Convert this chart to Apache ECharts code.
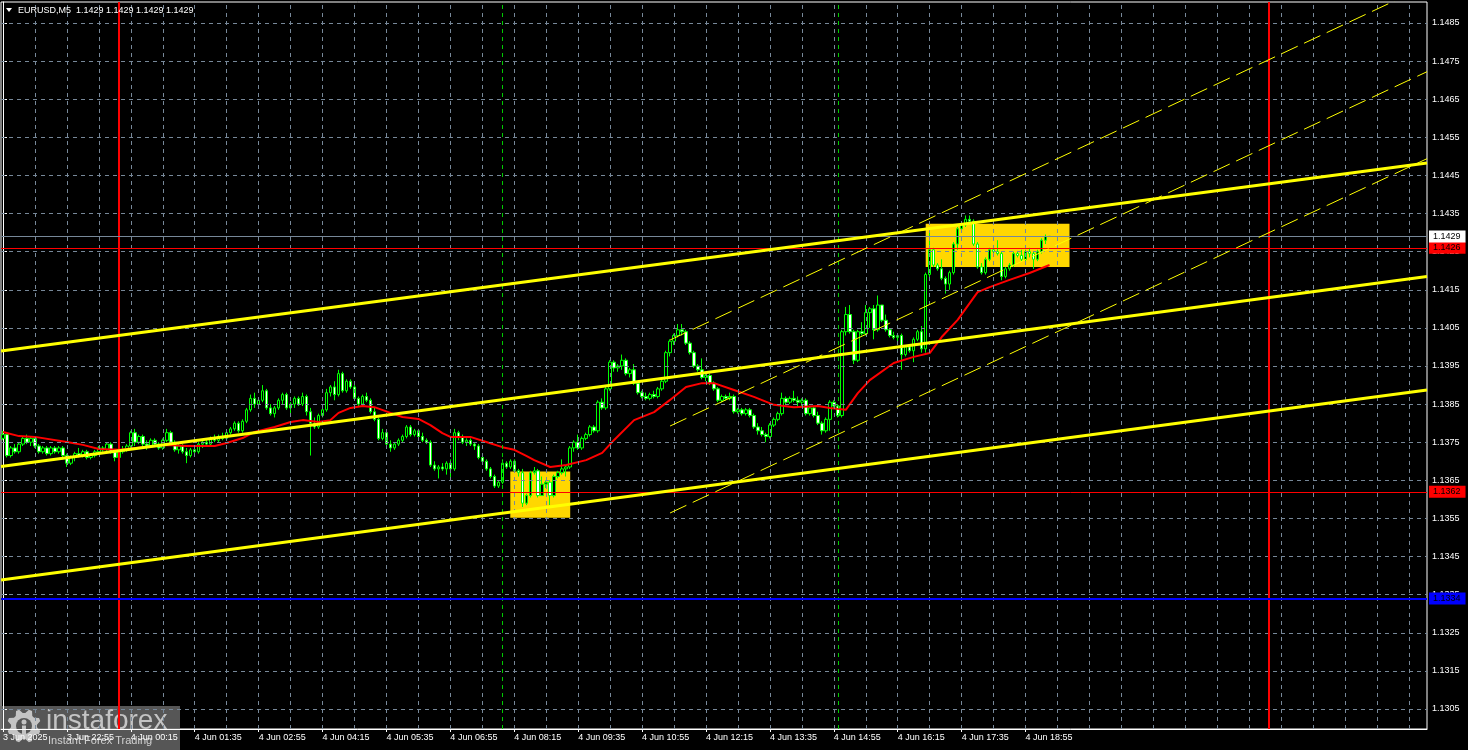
<!DOCTYPE html>
<html><head><meta charset="utf-8">
<script src="https://cdn.jsdelivr.net/npm/echarts@6/dist/echarts.min.js"></script>
<style>html,body{margin:0;padding:0;background:#000}#c{width:1468px;height:750px}</style>
</head><body><div id="c"></div>
<script>
// ---- data ----
const SLOTS = 357; // 5-minute slots visible (3 Jun 21:35 onward)
const tickLabels = ["3 Jun 2025","3 Jun 22:55","4 Jun 00:15","4 Jun 01:35","4 Jun 02:55","4 Jun 04:15","4 Jun 05:35","4 Jun 06:55","4 Jun 08:15","4 Jun 09:35","4 Jun 10:55","4 Jun 12:15","4 Jun 13:35","4 Jun 14:55","4 Jun 16:15","4 Jun 17:35","4 Jun 18:55"];
const priceTicks = [1.1305,1.1315,1.1325,1.1335,1.1345,1.1355,1.1365,1.1375,1.1385,1.1395,1.1405,1.1415,1.1425,1.1435,1.1445,1.1455,1.1465,1.1475,1.1485];
// [open, close, low, high]
const ohlc = [
[1.1376,1.1377,1.13755,1.1378],[1.1377,1.13715,1.1371,1.13775],[1.13715,1.13735,1.1371,1.1374],[1.13735,1.13725,1.1372,1.13745],
[1.13725,1.13745,1.1372,1.1375],[1.13745,1.1376,1.1374,1.13765],[1.1376,1.1375,1.13745,1.1377],[1.1375,1.1376,1.1374,1.13765],
[1.1376,1.1374,1.13735,1.13765],[1.1374,1.13725,1.1372,1.13745],[1.13725,1.13735,1.1372,1.1374],[1.13735,1.1372,1.13715,1.1374],
[1.1372,1.13735,1.13715,1.1374],[1.13735,1.13725,1.1372,1.1374],[1.13725,1.13735,1.1372,1.1374],[1.13735,1.13715,1.13705,1.1374],
[1.13715,1.13695,1.13685,1.1372],[1.13695,1.1371,1.1369,1.13715],[1.1371,1.1372,1.137,1.13725],[1.1372,1.13715,1.1371,1.13735],
[1.13715,1.13725,1.1371,1.1373],[1.13725,1.1371,1.13705,1.1373],[1.1371,1.13715,1.13705,1.1372],[1.13715,1.13725,1.1371,1.1373],
[1.13725,1.13735,1.1372,1.1374],[1.13735,1.1373,1.13725,1.1374],[1.1373,1.13745,1.13725,1.1375],[1.13745,1.13725,1.1372,1.1375],
[1.13725,1.1371,1.137,1.1373],[1.1371,1.13725,1.1369,1.1373],[1.13725,1.1373,1.1372,1.1374],[1.1373,1.1374,1.13725,1.13745],
[1.1374,1.13775,1.1373,1.1378],[1.13775,1.1375,1.1374,1.13785],[1.1375,1.13765,1.13745,1.1377],[1.13765,1.13745,1.1374,1.1377],
[1.13745,1.1374,1.1373,1.13755],[1.1374,1.13755,1.13735,1.1376],[1.13755,1.13745,1.1374,1.1376],[1.13745,1.13735,1.1373,1.1375],
[1.13735,1.13755,1.1373,1.1376],[1.13755,1.13775,1.1375,1.13785],[1.13775,1.1375,1.13745,1.1378],[1.1375,1.1373,1.13725,1.13755],
[1.1373,1.1374,1.1372,1.13745],[1.1374,1.13725,1.1372,1.13745],[1.13725,1.13715,1.13695,1.13735],[1.13715,1.1373,1.1371,1.13735],
[1.1373,1.13725,1.1372,1.1374],[1.13725,1.13745,1.1372,1.1375],[1.13745,1.1375,1.13735,1.13755],[1.1375,1.13745,1.1374,1.1376],
[1.13745,1.1376,1.1374,1.13765],[1.1376,1.13755,1.1375,1.1377],[1.13755,1.13765,1.1375,1.1377],[1.13765,1.1376,1.13755,1.13775],
[1.1376,1.13775,1.13755,1.1378],[1.13775,1.13785,1.1377,1.1379],[1.13785,1.138,1.1378,1.13805],[1.138,1.1378,1.13775,1.13805],
[1.1378,1.13805,1.13775,1.1381],[1.13805,1.13835,1.138,1.1384],[1.13835,1.13865,1.1383,1.13875],[1.13865,1.1385,1.1384,1.1388],
[1.1385,1.1386,1.1384,1.13865],[1.1386,1.13885,1.13855,1.139],[1.13885,1.1384,1.13835,1.1389],[1.1384,1.13825,1.1382,1.1385],
[1.13825,1.1384,1.13815,1.13845],[1.1384,1.1386,1.13835,1.13865],[1.1386,1.13875,1.1385,1.1388],[1.13875,1.1384,1.13835,1.1388],
[1.1384,1.1385,1.13825,1.13855],[1.1385,1.13865,1.1384,1.1387],[1.13865,1.1385,1.13845,1.1387],[1.1385,1.1387,1.13845,1.1388],
[1.1387,1.1383,1.1382,1.13875],[1.1383,1.138,1.13715,1.1384],[1.138,1.1379,1.13785,1.13815],[1.1379,1.1382,1.13785,1.13825],
[1.1382,1.13835,1.13815,1.1384],[1.13835,1.1388,1.1383,1.1389],[1.1388,1.13895,1.1387,1.139],[1.13895,1.13875,1.1386,1.1391],
[1.13875,1.1393,1.1387,1.1394],[1.1393,1.13885,1.1388,1.13935],[1.13885,1.1391,1.1388,1.13915],[1.1391,1.13895,1.1389,1.13915],
[1.13895,1.13865,1.1386,1.139],[1.13865,1.1385,1.13845,1.1387],[1.1385,1.1387,1.13845,1.13875],[1.1387,1.1386,1.13855,1.1388],
[1.1386,1.1383,1.13825,1.13865],[1.1383,1.1381,1.13805,1.1384],[1.1381,1.1376,1.13755,1.13815],[1.1376,1.13775,1.13755,1.13785],
[1.13775,1.13745,1.1374,1.1378],[1.13745,1.13735,1.13725,1.13755],[1.13735,1.13745,1.1373,1.1375],[1.13745,1.13755,1.1374,1.1376],
[1.13755,1.13765,1.1375,1.1377],[1.13765,1.1379,1.1376,1.13795],[1.1379,1.1377,1.13765,1.13795],[1.1377,1.1378,1.13765,1.13785],
[1.1378,1.13765,1.1376,1.13785],[1.13765,1.13755,1.1375,1.13775],[1.13755,1.1375,1.13745,1.1376],[1.1375,1.1369,1.13685,1.13755],
[1.1369,1.1368,1.13675,1.137],[1.1368,1.13685,1.13655,1.1369],[1.13685,1.1368,1.13675,1.13695],[1.1368,1.13695,1.13665,1.137],
[1.13695,1.1368,1.13655,1.13705],[1.1368,1.13775,1.13675,1.13785],[1.13775,1.13765,1.13755,1.1378],[1.13765,1.1375,1.13745,1.1377],
[1.1375,1.13755,1.1374,1.1376],[1.13755,1.13745,1.1374,1.1376],[1.13745,1.1374,1.1373,1.1375],[1.1374,1.1371,1.13705,1.13745],
[1.1371,1.137,1.13695,1.13715],[1.137,1.1368,1.13675,1.13705],[1.1368,1.1366,1.13655,1.13685],[1.1366,1.13635,1.1363,1.13665],
[1.13635,1.13645,1.1363,1.1365],[1.13645,1.13695,1.1364,1.13705],[1.13695,1.13685,1.1368,1.137],[1.13685,1.137,1.1368,1.13705],
[1.137,1.13675,1.1367,1.13705],[1.13675,1.1367,1.1366,1.1368],[1.1367,1.1359,1.1358,1.1368],[1.1359,1.1361,1.13585,1.13615],
[1.1361,1.1367,1.13605,1.13675],[1.1367,1.13675,1.13665,1.13685],[1.13675,1.1361,1.13605,1.1368],[1.1361,1.1364,1.1361,1.1366],
[1.1364,1.13645,1.1363,1.1365],[1.13645,1.1361,1.13585,1.1365],[1.1361,1.1366,1.13605,1.13665],[1.1366,1.1367,1.13655,1.13675],
[1.1367,1.1368,1.13665,1.13705],[1.1368,1.13685,1.1366,1.1369],[1.13685,1.13735,1.1368,1.1374],[1.13735,1.1375,1.13725,1.13755],
[1.1375,1.13735,1.1373,1.1377],[1.13735,1.1376,1.1373,1.13765],[1.1376,1.1377,1.13755,1.13775],[1.1377,1.1379,1.13765,1.13795],
[1.1379,1.1378,1.13775,1.13795],[1.1378,1.13855,1.13775,1.1386],[1.13855,1.1384,1.13835,1.13865],[1.1384,1.1389,1.13835,1.13895],
[1.1389,1.1396,1.13885,1.13965],[1.1396,1.13945,1.13935,1.13965],[1.13945,1.1395,1.13935,1.13955],[1.1395,1.13965,1.1394,1.1398],
[1.13965,1.1393,1.13925,1.1397],[1.1393,1.1394,1.1392,1.13945],[1.1394,1.13905,1.139,1.13955],[1.13905,1.1388,1.13875,1.1391],
[1.1388,1.1387,1.13865,1.13885],[1.1387,1.13865,1.1386,1.1388],[1.13865,1.13875,1.1386,1.1388],[1.13875,1.1387,1.13865,1.13885],
[1.1387,1.1389,1.13865,1.13895],[1.1389,1.1391,1.13885,1.13915],[1.1391,1.13985,1.13905,1.1399],[1.13985,1.14015,1.13975,1.1402],
[1.14015,1.1403,1.14005,1.14035],[1.1403,1.14045,1.14025,1.1406],[1.14045,1.1404,1.1403,1.1406],[1.1404,1.1401,1.14005,1.14045],
[1.1401,1.13985,1.1398,1.14015],[1.13985,1.1395,1.13945,1.1399],[1.1395,1.1394,1.13935,1.13955],[1.1394,1.1392,1.13915,1.1397],
[1.1392,1.13925,1.1391,1.13935],[1.13925,1.13905,1.139,1.1393],[1.13905,1.1389,1.13885,1.1391],[1.1389,1.1386,1.13855,1.13895],
[1.1386,1.1387,1.13855,1.13875],[1.1387,1.13865,1.1386,1.13875],[1.13865,1.1387,1.1386,1.1388],[1.1387,1.1383,1.13825,1.13875],
[1.1383,1.13835,1.13825,1.1384],[1.13835,1.13825,1.1382,1.1384],[1.13825,1.13835,1.1382,1.1384],[1.13835,1.1382,1.13815,1.1384],
[1.1382,1.1379,1.13785,1.13825],[1.1379,1.1378,1.1377,1.138],[1.1378,1.1377,1.13765,1.1379],[1.1377,1.13765,1.1375,1.13775],
[1.13765,1.13795,1.1376,1.138],[1.13795,1.1381,1.1379,1.13815],[1.1381,1.13825,1.13805,1.1383],[1.13825,1.13865,1.1382,1.1388],
[1.13865,1.13855,1.1385,1.1387],[1.13855,1.13865,1.1385,1.1387],[1.13865,1.1386,1.13855,1.13885],[1.1386,1.13855,1.13845,1.1387],
[1.13855,1.1386,1.13845,1.13865],[1.1386,1.13825,1.1382,1.13865],[1.13825,1.1384,1.1382,1.13845],[1.1384,1.1382,1.13815,1.13845],
[1.1382,1.138,1.13795,1.1383],[1.138,1.1378,1.1377,1.13805],[1.1378,1.1381,1.13775,1.13815],[1.1381,1.13855,1.1378,1.1386],
[1.13855,1.13845,1.1384,1.1386],[1.13845,1.1382,1.13815,1.1385],[1.1382,1.1404,1.13815,1.14045],[1.1404,1.14085,1.1403,1.14105],
[1.14085,1.1404,1.14035,1.1411],[1.1404,1.13965,1.13955,1.14045],[1.13965,1.1404,1.1396,1.14045],[1.1404,1.14035,1.1403,1.14065],
[1.14035,1.1409,1.1403,1.1411],[1.1409,1.141,1.1405,1.14105],[1.141,1.14045,1.1402,1.1411],[1.14045,1.1411,1.1404,1.14135],
[1.1411,1.1407,1.14065,1.1411],[1.1407,1.14045,1.1404,1.14085],[1.14045,1.1403,1.14025,1.1405],[1.1403,1.14025,1.1402,1.1404],
[1.14025,1.1403,1.14015,1.14035],[1.1403,1.1398,1.1394,1.14035],[1.1398,1.14,1.13975,1.14005],[1.14,1.1399,1.13985,1.14005],
[1.1399,1.1402,1.1396,1.14025],[1.1402,1.1404,1.14015,1.14045],[1.1404,1.13995,1.13985,1.14055],[1.13995,1.1419,1.13985,1.14195],
[1.1419,1.14255,1.1418,1.1431],[1.14255,1.14215,1.1421,1.1426],[1.14215,1.14205,1.142,1.1422],[1.14205,1.1418,1.14175,1.1423],
[1.1418,1.14165,1.1414,1.14185],[1.14165,1.14195,1.1415,1.142],[1.14195,1.1427,1.1419,1.14275],[1.1427,1.1431,1.14255,1.14315],
[1.1431,1.1432,1.14305,1.1433],[1.1432,1.14335,1.14315,1.14345],[1.14335,1.1433,1.14325,1.14345],[1.1433,1.1427,1.14265,1.14335],
[1.1427,1.1421,1.14205,1.14275],[1.1421,1.14195,1.1419,1.1422],[1.14195,1.1423,1.1419,1.14235],[1.1423,1.14255,1.14225,1.1426],
[1.14255,1.1425,1.14245,1.1426],[1.1425,1.14245,1.1424,1.1428],[1.14245,1.14185,1.14175,1.1425],[1.14185,1.14205,1.1418,1.1421],
[1.14205,1.14215,1.142,1.1422],[1.14215,1.14245,1.1421,1.1425],[1.14245,1.1424,1.14235,1.1425],[1.1424,1.1423,1.14225,1.14255],
[1.1423,1.1425,1.14225,1.14255],[1.1425,1.14245,1.14235,1.1426],[1.14245,1.1423,1.14205,1.1425],[1.1423,1.1425,1.14225,1.14255],
[1.1425,1.1428,1.14245,1.14285],[1.1428,1.1429,1.1427,1.14295],[1.1429,1.1429,1.1429,1.1429]
];
// moving average (red), read at bar indices
const maIdx = [0,4,8,16,20,24,29,35,41,46,53,56,60,63,68,72,75,79,82,84,87,90,93,97,100,104,107,110,112,117,121,125,128,131,133,137,141,146,150,153,158,163,167,171,175,178,183,188,193,198,204,207,211,214,217,223,228,232,235,239,244,247,252,257,262];
const maVal = [1.13777,1.13766,1.13764,1.137505,1.13743,1.13732,1.1373,1.13737,1.13743,1.1374,1.1374,1.13748,1.13761,1.13777,1.1379,1.13803,1.13808,1.13803,1.13808,1.13827,1.1384,1.13845,1.13842,1.13827,1.13816,1.13811,1.13795,1.13774,1.13764,1.13764,1.137505,1.13737,1.1373,1.13714,1.13703,1.13685,1.1369,1.13703,1.13722,1.13756,1.13808,1.13829,1.13861,1.13895,1.13905,1.13905,1.13887,1.13869,1.13848,1.13842,1.13845,1.1384,1.13835,1.13879,1.13913,1.13958,1.13974,1.13984,1.14026,1.14071,1.14144,1.14157,1.14176,1.14194,1.14215];
// trend lines [barFrom, priceFrom, barTo, priceTo]
const solidTrends = [[-0.5,1.139893,356.5,1.144826],[-0.5,1.136863,356.5,1.141848],[-0.5,1.133884,356.5,1.13887]];
const dashTrends = [[167,1.140182,356.5,1.149479],[167,1.137925,356.5,1.147222],[167,1.135643,356.5,1.14494]];
// zones [barFrom, priceTop, barTo, priceBottom]
const zones = [[127,1.13673,142,1.13552],[231,1.14323,267,1.1421]];
const bidPrice = 1.1429, redLevels = [1.1426, 1.1362], blueLevel = 1.1334;
const dayStarts = [29, 317];
const eventBars = [125, 209];
const titleText = "EURUSD,M5  1.1429 1.1429 1.1429 1.1429";

// ---- chart ----
const FONT = 'Liberation Sans';
const cats = []; for (let i = 0; i < SLOTS; i++) cats.push(String(i));
const showTick = (i) => i % 16 === 0 && i <= 256;
const gridXs = []; for (let k = 8; k < SLOTS; k += 8) gridXs.push(k);
const dummy = [[-5, 1.14]];
function overlay(z, markLine) {
  return {type:'line', xAxisIndex:1, yAxisIndex:0, data:dummy, symbol:'none', lineStyle:{opacity:0},
    silent:true, z:z, clip:false, markLine:Object.assign({silent:true, precision:6, symbol:['none','none'], animation:false, label:{show:false}}, markLine)};
}
const levelLabel = (bg) => ({show:true, position:'end', distance:2, formatter:(p)=>Number(p.value).toFixed(4), backgroundColor:bg, color:'#000',
  padding:[2,5,1,4], fontSize:9, fontFamily:FONT});

const series = [];
// zones
series.push({type:'line', xAxisIndex:1, data:dummy, symbol:'none', lineStyle:{opacity:0}, silent:true, z:1,
  markArea:{silent:true, itemStyle:{color:'#ffd700'}, data: zones.map(z=>[{coord:[z[0],z[1]]},{coord:[z[2],z[3]]}])}});
// grid
series.push(overlay(2, {lineStyle:{color:'#778899', type:[4,4], width:1},
  data: priceTicks.map(v=>({yAxis:v})).concat(gridXs.map(v=>({xAxis:v})))}));
// candles
series.push({type:'candlestick', xAxisIndex:0, data: ohlc, barWidth:3, z:3, silent:true,
  itemStyle:{color:'#000', color0:'#fff', borderColor:'#00ff00', borderColor0:'#00ff00', borderWidth:1}});
// MA
series.push({type:'line', xAxisIndex:1, data: maIdx.map((x,k)=>[x, maVal[k]]), symbol:'none', z:4, silent:true,
  lineStyle:{color:'#ff0000', width:2}});
// trend lines
solidTrends.forEach(t=>series.push({type:'line', xAxisIndex:1, data:[[t[0],t[1]],[t[2],t[3]]], symbol:'none', z:5, silent:true,
  lineStyle:{color:'#ffff00', width:3}}));
dashTrends.forEach(t=>series.push({type:'line', xAxisIndex:1, data:[[t[0],t[1]],[t[2],t[3]]], symbol:'none', z:5, silent:true,
  lineStyle:{color:'#ffff00', width:1, type:[18,7]}}));
// vertical lines
series.push(overlay(6, {lineStyle:{color:'#ff0000', width:2, type:'solid'}, data: dayStarts.map(v=>({xAxis:v}))}));
series.push(overlay(6, {lineStyle:{color:'#00cc00', width:1, type:[4,4]}, data: eventBars.map(v=>({xAxis:v}))}));
// horizontal levels with price tags
series.push(overlay(7, {data:[
  {yAxis: blueLevel, lineStyle:{color:'#0000ff', width:2, type:'solid'}, label: levelLabel('#0000ff')},
  ...redLevels.map(v=>({yAxis:v, lineStyle:{color:'#ff0000', width:1, type:'solid'}, label: levelLabel('#ff0000')})),
  {yAxis: bidPrice, lineStyle:{color:'#778899', width:1, type:'solid'}, label: levelLabel('#ffffff')}
]}));

// watermark gear polygon
const gear = []; const gcx = 24, gcy = 726;
for (let t = 0; t < 32; t++) { const a = t * Math.PI * 2 / 32 + 0.1; const r = (t % 4 === 1 || t % 4 === 2) ? 17 : 13;
  gear.push([gcx + r * Math.cos(a), gcy + r * Math.sin(a)]); }

const chart = echarts.init(document.getElementById('c'), null, {renderer:'canvas'});
chart.setOption({
  animation:false, backgroundColor:'#000',
  grid:{left:1, right:41, top:2, bottom:21, show:true, borderColor:'#ffffff', borderWidth:1, backgroundColor:'#000'},
  xAxis:[
    {type:'category', data:cats, boundaryGap:true, gridIndex:0,
     axisLine:{show:true, lineStyle:{color:'#fff', width:1}},
     axisTick:{show:true, interval:showTick, alignWithLabel:true, length:3, lineStyle:{color:'#fff'}},
     axisLabel:{show:true, interval:showTick, formatter:(v,i)=>tickLabels[i/16], align:'left', color:'#fff', fontSize:9, fontFamily:FONT, margin:4},
     splitLine:{show:false}},
    {type:'value', min:-0.5, max:SLOTS-0.5, show:false, gridIndex:0}
  ],
  yAxis:{type:'value', position:'right', min:1.129975, max:1.149051, scale:true,
    axisLine:{show:true, lineStyle:{color:'#fff'}},
    axisTick:{show:true, customValues:priceTicks, length:4, lineStyle:{color:'#fff'}},
    axisLabel:{show:true, customValues:priceTicks, formatter:(v)=>v.toFixed(4), color:'#fff', fontSize:9, fontFamily:FONT, margin:5},
    splitLine:{show:false}},
  series: series,
  graphic:[
    {type:'polygon', shape:{points:[[6,8],[12,8],[9,12]]}, style:{fill:'#fff'}, z:100},
    {type:'text', x:18, y:10.5, style:{text:titleText, fill:'#fff', font:'9px '+FONT, textVerticalAlign:'middle'}, z:100},
    {type:'group', z:100, children:[
      {type:'rect', shape:{x:0, y:706, width:180, height:44}, style:{fill:'rgba(110,110,110,0.78)'}},
      {type:'polygon', shape:{points:gear}, style:{fill:'#c4c4c4'}},
      {type:'circle', shape:{cx:gcx, cy:gcy, r:8}, style:{fill:'#565656'}},
      {type:'circle', shape:{cx:gcx, cy:gcy-4, r:2.5}, style:{fill:'#c4c4c4'}},
      {type:'rect', shape:{x:gcx-2, y:gcy-0.5, width:4, height:13}, style:{fill:'#c4c4c4'}},
      {type:'text', x:46, y:721, style:{text:'instaforex', fill:'#c4c4c4', font:'28px '+FONT, textVerticalAlign:'middle'}},
      {type:'text', x:48, y:741, style:{text:'Instant Forex Trading', fill:'#d2d2d2', font:'11px '+FONT, textVerticalAlign:'middle'}}
    ]}
  ]
});
</script></body></html>
